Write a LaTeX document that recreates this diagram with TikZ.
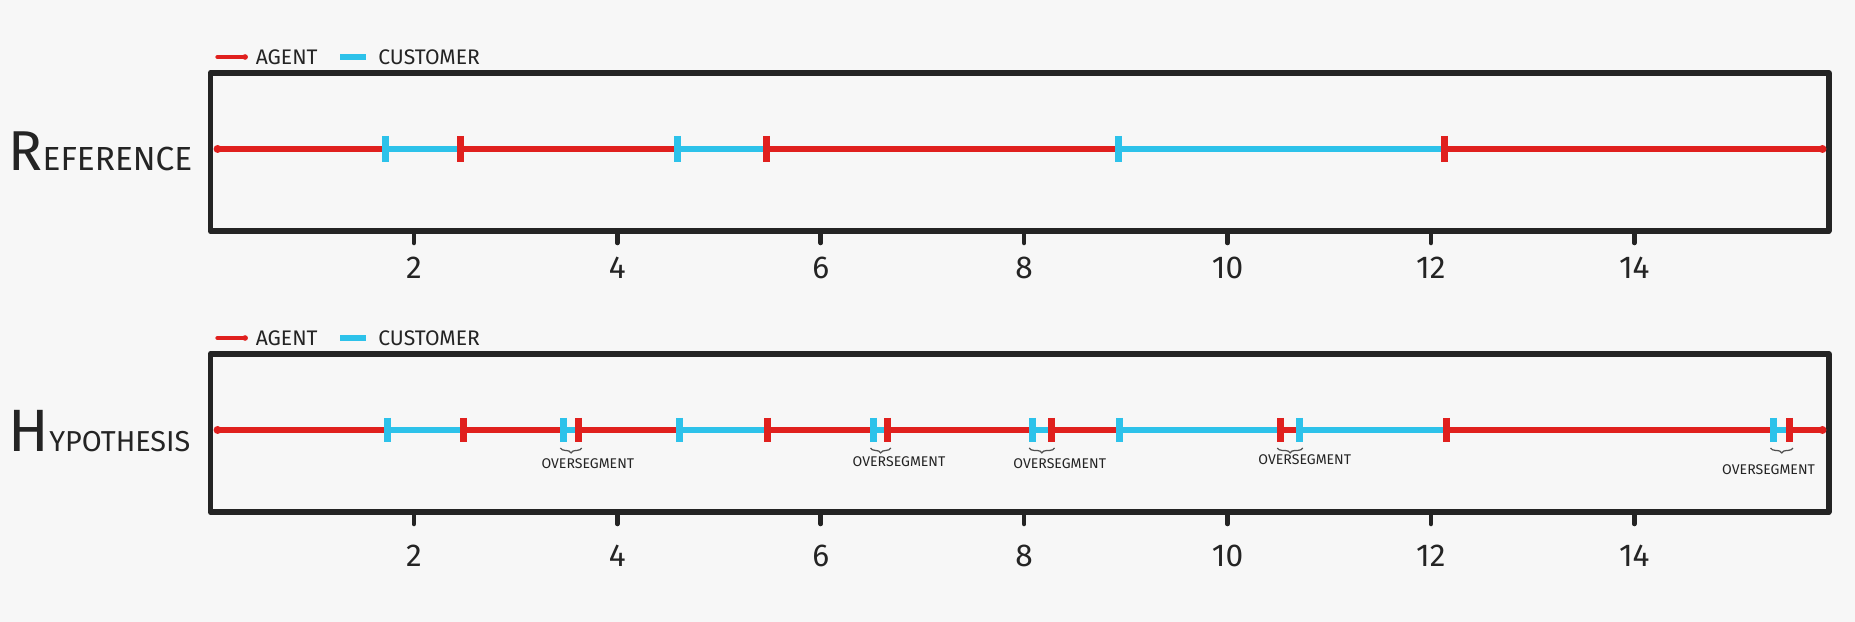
\documentclass[tikz,border=0pt]{standalone}
\usepackage{fontspec}
\setmainfont{Fira Sans}
\usetikzlibrary{positioning, decorations.pathreplacing}

\definecolor{agentred}{RGB}{224,32,30}
\definecolor{custblue}{RGB}{45,194,234}
\definecolor{penblack}{RGB}{36,36,36}
\definecolor{paper}{RGB}{247,247,247}

\tikzset{
  frame/.style={draw=penblack, line width=1.7pt, line cap=round, line join=round},
  tickmark/.style={draw=penblack, line width=1.3pt, line cap=round},
  ticklabel/.style={font=\fontsize{9}{9}\selectfont, text=penblack, inner sep=0pt},
  seg/.style={draw=#1, line width=1.8pt},
  cutmark/.style={draw=#1, line width=2pt},
  legendtext/.style={font=\fontsize{6}{6}\selectfont, text=penblack, inner sep=0pt, anchor=west},
  ostext/.style={font=\fontsize{4}{5}\selectfont, text=penblack, inner sep=0pt},
  osbrace/.style={draw=penblack!80, line width=0.35pt,
    decorate, decoration={brace, mirror, amplitude=1.4pt}},
  paneltitle/.style={text=penblack, inner sep=0pt, anchor=base west}
}

\begin{document}
\begin{tikzpicture}
\path[use as bounding box, fill=paper] (0,0) rectangle (18.55,-6.22);

% row titles
\node[paneltitle] (reftitle) at (0.08,-1.71)
  {{\fontsize{16}{16}\selectfont R}{\fontsize{9.5}{10}\selectfont EFERENCE}};
\node[paneltitle] (hyptitle) at (0.08,-4.52)
  {{\fontsize{17}{17}\selectfont H}{\fontsize{8.2}{9}\selectfont YPOTHESIS}};

\begin{scope}[xshift=2.105cm, x=1.017cm]
  % frames, ticks and legends of both rows
  \foreach \p/\dy/\ly in {ref/0/-2.68, hyp/-2.81/-5.56} {
    \draw[frame] (0,-0.73+\dy) rectangle (15.91,-2.31+\dy);
    \foreach \t in {2,4,...,14} {
      \draw[tickmark] (\t,-2.31+\dy) -- (\t,-2.43+\dy);
      \node[ticklabel] (\p-tick-\t) at (\t,\ly) {\t};
    }
    \coordinate (\p-la) at (0.07,-0.57+\dy);
    \draw[agentred, line width=1.3pt, line cap=round] (\p-la) -- ++(0.27,0) coordinate (\p-lb);
    \fill[agentred] (\p-lb) circle (0.028);
    \node[legendtext, right=0.1cm of \p-lb] (\p-agent) {AGENT};
    \draw[custblue, line width=1.6pt] ([xshift=0.22cm]\p-agent.east) -- ++(0.25,0) coordinate (\p-lc);
    \node[legendtext, right=0.12cm of \p-lc] (\p-customer) {CUSTOMER};
  }

  % reference segmentation
  \foreach \a/\b/\c in {0.07/1.72/agentred, 1.72/2.46/custblue, 2.46/4.59/agentred,
      4.59/5.47/custblue, 5.47/8.93/agentred, 8.93/12.13/custblue, 12.13/15.85/agentred}
    \draw[seg=\c] (\a,-1.49) -- (\b,-1.49);
  \fill[agentred] (0.07,-1.49) circle (0.04);
  \fill[agentred] (15.85,-1.49) circle (0.04);
  \foreach \m/\c in {1.72/custblue, 2.46/agentred, 4.59/custblue, 5.47/agentred,
      8.93/custblue, 12.13/agentred}
    \draw[cutmark=\c] (\m,-1.36) -- (\m,-1.62);

  % hypothesis segmentation
  \foreach \a/\b/\c in {0.07/1.74/agentred, 1.74/2.49/custblue, 2.49/3.47/agentred,
      3.47/3.62/custblue, 3.62/4.61/agentred, 4.61/5.48/custblue, 5.48/6.52/agentred,
      6.52/6.66/custblue, 6.66/8.08/agentred, 8.08/8.27/custblue, 8.27/8.94/agentred,
      8.94/10.52/custblue, 10.52/10.71/agentred, 10.71/12.15/custblue,
      12.15/15.37/agentred, 15.37/15.53/custblue, 15.53/15.85/agentred}
    \draw[seg=\c] (\a,-4.30) -- (\b,-4.30);
  \fill[agentred] (0.07,-4.30) circle (0.04);
  \fill[agentred] (15.85,-4.30) circle (0.04);
  \foreach \m/\c in {1.74/custblue, 2.49/agentred, 3.47/custblue, 3.62/agentred,
      4.61/custblue, 5.48/agentred, 6.52/custblue, 6.66/agentred, 8.08/custblue,
      8.27/agentred, 8.94/custblue, 10.52/agentred, 10.71/custblue, 12.15/agentred,
      15.37/custblue, 15.53/agentred}
    \draw[cutmark=\c] (\m,-4.18) -- (\m,-4.42);

  % oversegment braces and labels
  \foreach \a/\b/\lx/\ly [count=\i] in {3.47/3.62/3.71/-4.64, 6.52/6.66/6.77/-4.62,
      8.08/8.27/8.35/-4.64, 10.52/10.71/10.76/-4.60, 15.37/15.53/15.32/-4.70} {
    \coordinate (os\i-l) at (\a-0.03,-4.48);
    \coordinate (os\i-r) at (\b+0.03,-4.48);
    \draw[osbrace] (os\i-l) -- (os\i-r);
    \node[ostext] (os\i) at (\lx,\ly) {OVERSEGMENT};
  }
\end{scope}
\end{tikzpicture}
\end{document}
